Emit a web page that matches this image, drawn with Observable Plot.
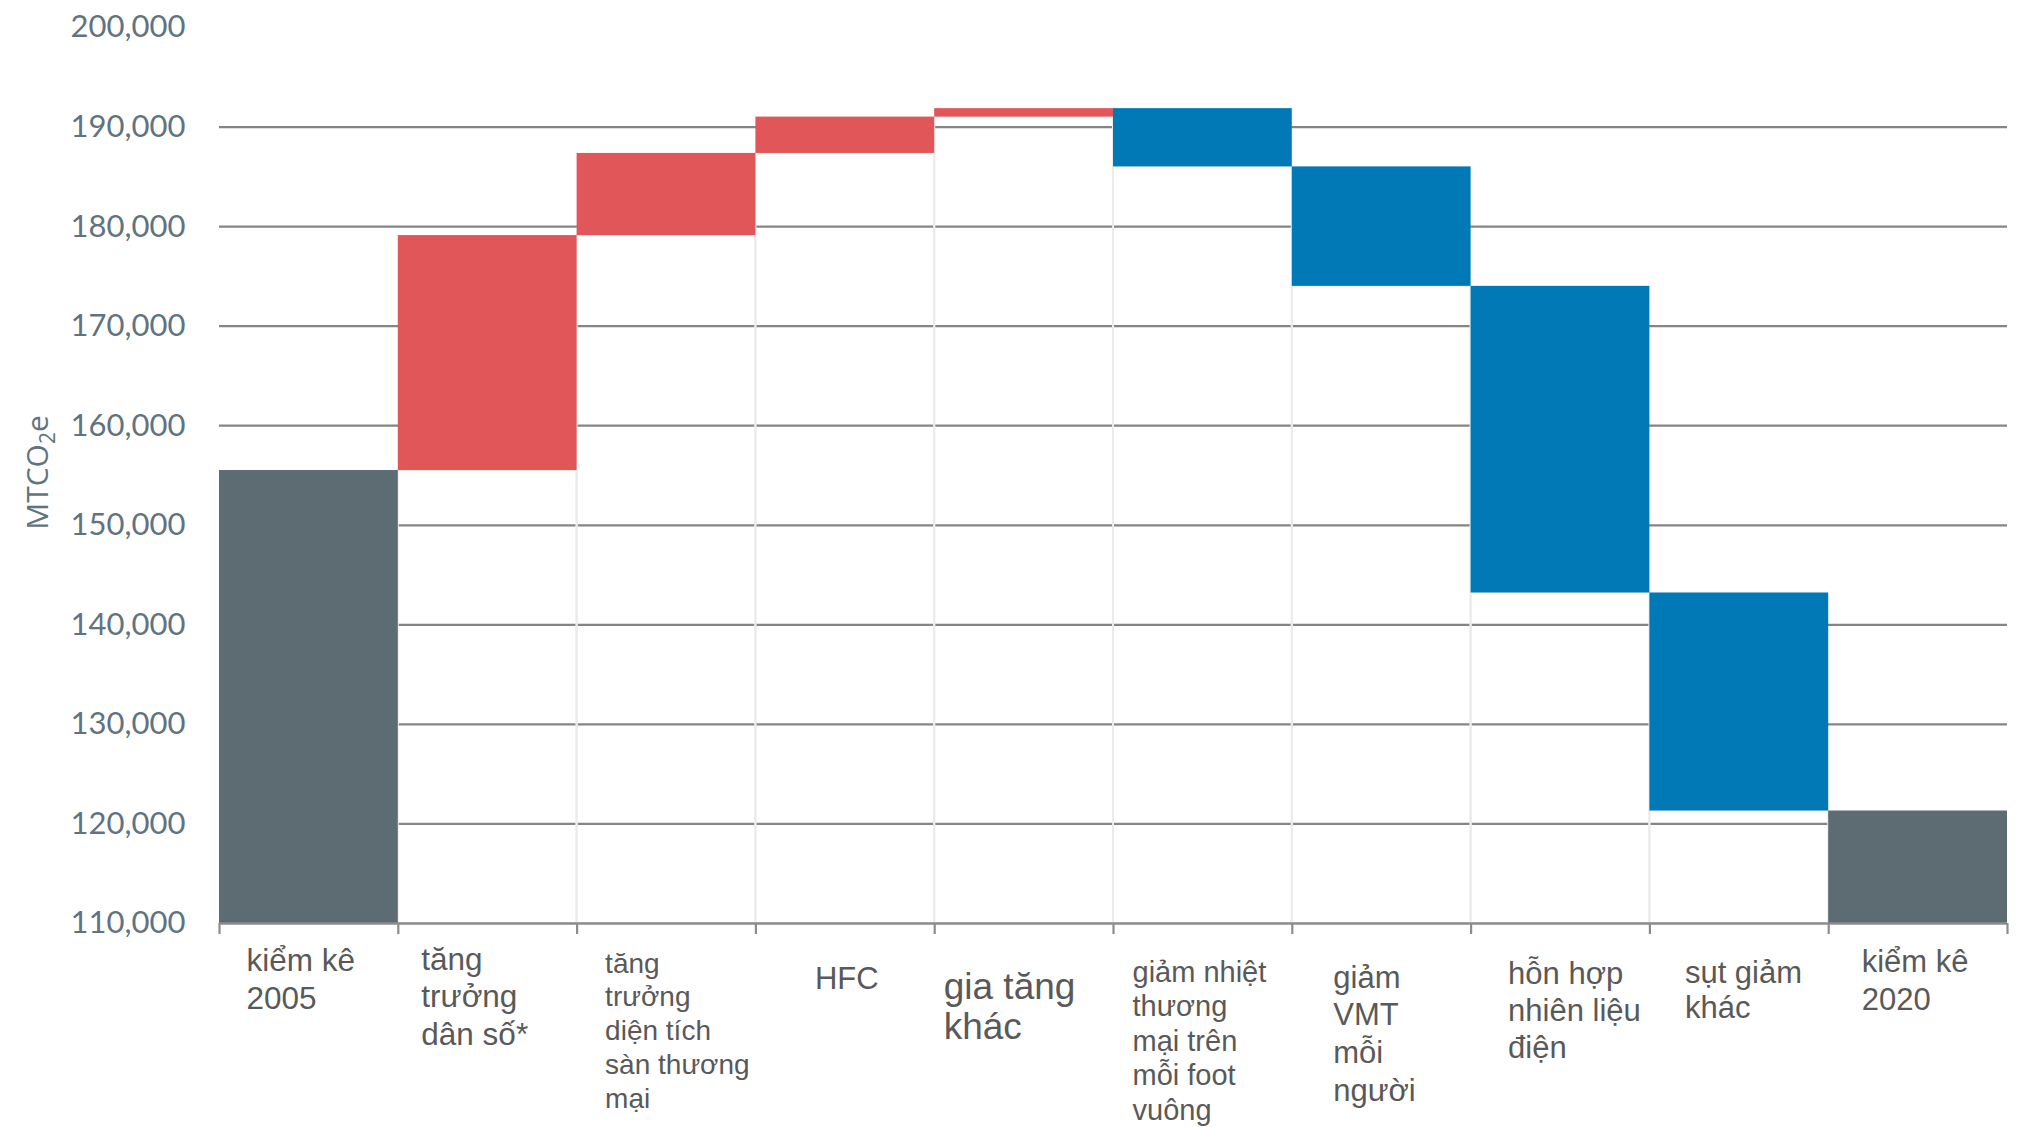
<!DOCTYPE html>
<html>
<head>
<meta charset="utf-8">
<script src="https://cdn.jsdelivr.net/npm/d3@7"></script>
<script src="https://cdn.jsdelivr.net/npm/@observablehq/plot@0.6"></script>
<style>
  html, body { margin: 0; padding: 0; background: #ffffff; }
  #chart svg { display: block; }
</style>
</head>
<body>
<div id="chart"></div>
<script>
// ---- data ----
const categories = [
  "kiểm kê\n2005",
  "tăng\ntrưởng\ndân số*",
  "tăng\ntrưởng\ndiện tích\nsàn thương\nmại",
  "HFC",
  "gia tăng\nkhác",
  "giảm nhiệt\nthương\nmại trên\nmỗi foot\nvuông",
  "giảm\nVMT\nmỗi\nngười",
  "hỗn hợp\nnhiên liệu\nđiện",
  "sụt giảm\nkhác",
  "kiểm kê\n2020"
];
const kinds = ["total", "increase", "increase", "increase", "increase",
               "decrease", "decrease", "decrease", "decrease", "total"];
// totals are absolute values, the rest are changes (MTCO2e)
const values = [155500, 23600, 8250, 3650, 850, -5850, -12000, -30800, -21900, 121300];
const yTicks = [110000, 120000, 130000, 140000, 150000, 160000, 170000, 180000, 190000, 200000];
const yBase = 110000;
const yLabel = "MTCO2e";

// ---- styles (kept apart from the data) ----
const colors = {total: "#5d6c73", increase: "#e15759", decrease: "#0079b6"};
const labelDx = [27, 23, 28, 59, 9, 19, 41, 37, 35, 33];
const labelSize = [31.5, 31.5, 28, 31, 37, 29, 31, 31, 31, 31];
const labelSpacing = [39, 37.5, 33.8, 38, 41, 34.6, 37.7, 37.3, 36, 38.6];
const labelBaseline = [47, 46, 49, 65, 75, 58, 64, 60, 59, 48];

// ---- waterfall rows built from the data ----
let running = 0;
const rows = categories.map((c, i) => {
  let y1, y2;
  if (kinds[i] === "total") { y1 = yBase; y2 = values[i]; running = values[i]; }
  else { y1 = running; y2 = running + values[i]; running = y2; }
  return {i, label: c, kind: kinds[i], y1, y2, low: Math.min(y1, y2)};
});
const floating = rows.filter(d => d.kind !== "total");

const labelMarks = rows.map((d, k) => Plot.text([d], {
  x: "i",
  y: () => yBase,
  text: "label",
  textAnchor: "start",
  lineAnchor: "top",
  lineHeight: labelSpacing[k] / labelSize[k],
  fontSize: labelSize[k],
  fontFamily: "Liberation Sans, Arial, sans-serif",
  fill: "#595959",
  dx: labelDx[k],
  dy: labelBaseline[k] - 0.71 * labelSpacing[k]
}));

const chart = Plot.plot({
  width: 2017,
  height: 1127,
  marginLeft: 219,
  marginRight: 10,
  marginTop: 27,
  marginBottom: 204,
  x: {domain: [0, categories.length], axis: null},
  y: {domain: [yBase, 200000], axis: null},
  marks: [
    Plot.ruleY(yTicks.filter(v => v > yBase && v < 200000), {stroke: "#858585", strokeWidth: 2.2}),
    Plot.rect(floating, {x1: "i", x2: d => d.i + 1, y1: () => yBase, y2: "low", fill: "none", stroke: "#ebebeb", strokeWidth: 2}),
    Plot.rect(rows, {x1: "i", x2: d => d.i + 1, y1: "y1", y2: "y2", fill: d => colors[d.kind]}),
    Plot.ruleY([yBase], {stroke: "#8c8c8c", strokeWidth: 2.5}),
    Plot.axisX({ticks: d3.range(categories.length + 1), tickSize: 11, tickFormat: () => "", stroke: "#8c8c8c", strokeWidth: 2.2, label: null}),
    Plot.axisY({ticks: yTicks, tickSize: 0, tickPadding: 34, tickFormat: d3.format(","), fontSize: 31, fontFamily: "Lato, sans-serif", fill: "#617380", label: null}),
    Plot.text([yLabel], {frameAnchor: "left", rotate: -90, textAnchor: "middle", dx: -181, dy: -3, fontSize: 30, fontFamily: "Open Sans, sans-serif", fill: "#617380"})
  ].concat(labelMarks)
});

document.getElementById("chart").appendChild(chart);

// subscript the 2 of MTCO2e
d3.select(chart).selectAll("text").each(function () {
  if (this.textContent === yLabel) {
    const t = d3.select(this);
    t.text(null);
    t.append("tspan").text("MTCO");
    t.append("tspan").attr("font-size", "21").attr("dy", "7").text("2");
    t.append("tspan").attr("dy", "-7").text("e");
  }
});
</script>
</body>
</html>
